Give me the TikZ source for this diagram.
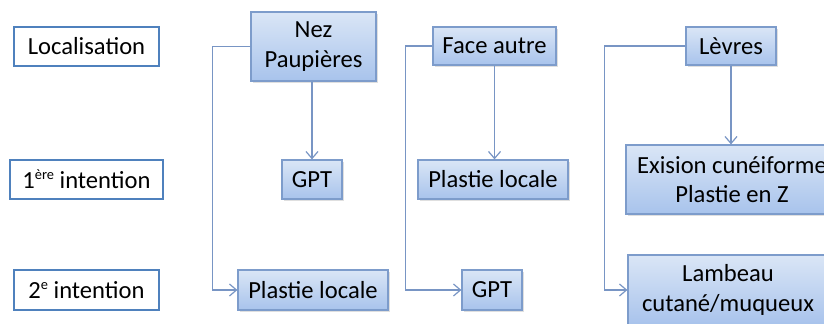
\documentclass[tikz,border=0pt]{standalone}
\usepackage{fontspec}
\setmainfont{Carlito}
\usetikzlibrary{arrows.meta,shadows}
\definecolor{lblborder}{HTML}{4F81BD}
\definecolor{flowborder}{HTML}{7D9CCB}
\definecolor{flowtop}{HTML}{DAE6F6}
\definecolor{flowbot}{HTML}{A8C3EC}
\definecolor{conncol}{HTML}{7895C4}
\newcommand{\supsm}[1]{\raisebox{0.75ex}{\fontsize{7.2}{7.2}\selectfont #1}}
\begin{document}
\begin{tikzpicture}[x=0.5pt,y=-0.5pt,
  every node/.style={font=\fontsize{12.3}{14.6}\selectfont, inner sep=0pt, align=center, text=black},
  lbl/.style={draw=lblborder, line width=1.4pt, fill=white},
  flow/.style={draw=flowborder, line width=0.6pt, top color=flowtop, bottom color=flowbot,
    drop shadow={shadow xshift=0.8pt, shadow yshift=-1.2pt, opacity=0.25}},
  conn/.style={draw=conncol, line width=0.6pt, -{Straight Barb[length=3.5pt,width=6pt]}}]
\useasboundingbox (0,0) rectangle (824,324);
\clip (0,0) rectangle (824,324);
% row labels
\node[lbl, minimum width=72.5pt, minimum height=19.5pt] (loc) at (86.5,46.5) {Localisation};
\node[lbl, minimum width=76.5pt, minimum height=19.5pt] (int1) at (86.5,179.5) {1\supsm{ère} intention};
\node[lbl, minimum width=72.5pt, minimum height=20pt] (int2) at (86.5,290) {2\supsm{e} intention};
% column 1
\node[flow, minimum width=62.5pt, minimum height=34.5pt] (nez) at (313.5,46.5) {Nez\\Paupières};
\node[flow, minimum width=30pt, minimum height=19.5pt] (gpt1) at (312,179.5) {GPT};
\node[flow, minimum width=75pt, minimum height=20pt] (pl1) at (313,290) {Plastie locale};
% column 2
\node[flow, minimum width=61.5pt, minimum height=19pt] (face) at (494.5,46) {Face autre};
\node[flow, minimum width=75pt, minimum height=19.5pt] (pl2) at (493,179.5) {Plastie locale};
\node[flow, minimum width=30pt, minimum height=20pt] (gpt2) at (492,290) {GPT};
% column 3
\node[flow, minimum width=45pt, minimum height=19pt] (lev) at (731,46) {Lèvres};
\node[flow, minimum width=106pt, minimum height=34.5pt] (exi) at (732,179.5) {Exision cunéiforme\\Plastie en Z};
\node[flow, minimum width=100pt, minimum height=35pt] (lam) at (728,290) {Lambeau\\cutané/muqueux};
% connectors
\draw[conn] (nez.south -| gpt1.north) -- (gpt1.north);
\draw[conn] (nez.west) -- ++(-38,0) |- (pl1.west);
\draw[conn] (face.south) -- (face.south |- pl2.north);
\draw[conn] (face.west) -- ++(-27,0) |- (gpt2.west);
\draw[conn] (lev.south) -- (lev.south |- exi.north);
\draw[conn] (lev.west) -- ++(-81,0) |- (lam.west);
\end{tikzpicture}
\end{document}
